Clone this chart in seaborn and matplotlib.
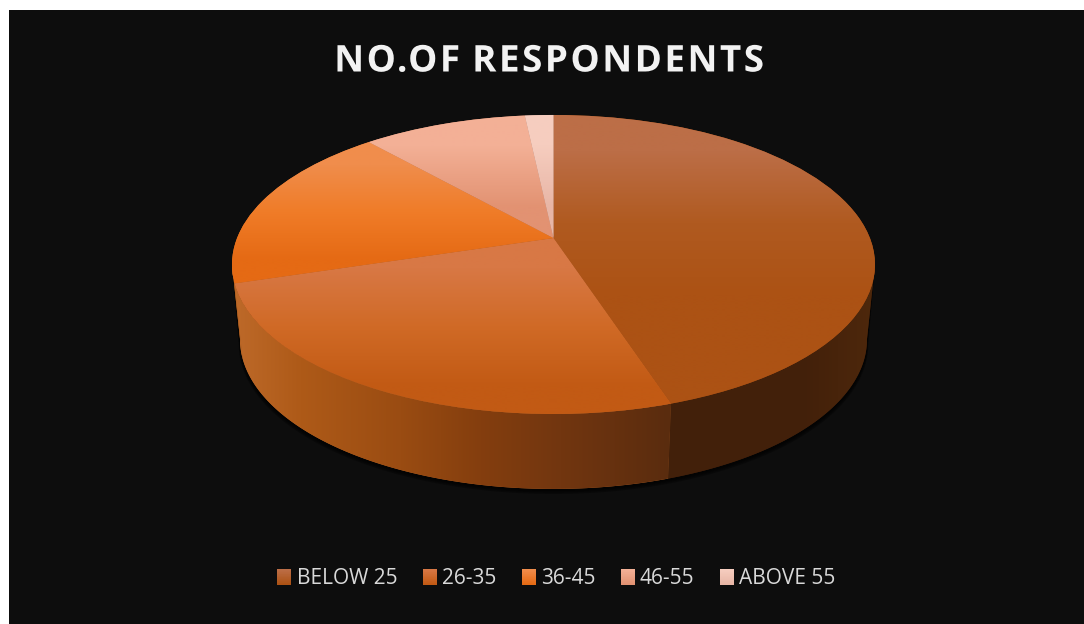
import numpy as np
import matplotlib
matplotlib.use("Agg")
import matplotlib.pyplot as plt
import matplotlib.patheffects as pe
from matplotlib.colors import to_rgb
from matplotlib.legend_handler import HandlerBase
from matplotlib.patches import Patch, Rectangle
from matplotlib.path import Path
from matplotlib.transforms import Transform
import seaborn as sns

# Survey shares by age band
age_groups = ["BELOW 25", "26-35", "36-45", "46-55", "ABOVE 55"]
respondents = [45, 25.2, 18.3, 9.8, 1.7]
chart_title = "NO.OF RESPONDENTS"

BG = "#0D0D0D"
W, H = 1084, 624

# Top-face colours per slice: lit edge, then base tone
top_shades = [
    sns.blend_palette(["#BC6E47", "#B05A20", "#AC5214", "#AC5214"], 4),
    sns.blend_palette(["#D87845", "#D06A26", "#C25A14"], 3),
    sns.blend_palette(["#F08D4C", "#F07C28", "#E56A14"], 3),
    sns.blend_palette(["#F3B096", "#E29272"], 2),
    sns.blend_palette(["#F6CDBF", "#E8B6A6"], 2),
]
# Rim colours per slice, left to right across the pie
rim_shades = [
    [(670, "#42200A"), (800, "#42200A"), (875, "#4E280C")],
    [(232, "#BE6A2A"), (300, "#AE5A18"), (400, "#9A4C12"), (480, "#843E0E"),
     (560, "#723610"), (668, "#5A2C0E")],
    [(232, "#C86C20"), (240, "#C06A28")],
    [(232, "#803C14"), (875, "#803C14")],
    [(232, "#907060"), (875, "#907060")],
]

# Perspective used for the pie's top face (unit circle to canvas pixels)
CX, CY, A, B, K = 553.5, 238.0, 316.4, 144.8, 0.177
DEPTH, BASE_SCALE = 75.0, 0.975
# Only this stretch of the rim faces the viewer (angles in degrees)
FRONT_LO, FRONT_HI = -180 + np.degrees(np.arcsin(K)), -np.degrees(np.arcsin(K))


class TiltTransform(Transform):
    input_dims = output_dims = 2
    is_separable = False
    has_inverse = False

    def transform_non_affine(self, values):
        values = np.asarray(values, float)
        w = 1 + K * values[:, 1]
        return np.column_stack([CX + A * values[:, 0] / w, CY - B * values[:, 1] / w])

    def transform_path_non_affine(self, path):
        return Path(self.transform_non_affine(path.vertices), path.codes)


class LetterSpacing(pe.AbstractPathEffect):
    """Spreads the glyphs of a text path apart by a fixed number of pixels."""

    def __init__(self, spacing_px):
        super().__init__()
        self.spacing_px = spacing_px

    def draw_path(self, renderer, gc, tpath, affine, rgbFace=None):
        verts = np.array(tpath.vertices, float)
        codes = np.array(tpath.codes)
        starts = list(np.flatnonzero(codes == Path.MOVETO)) + [len(codes)]
        spans = []
        for a, b in zip(starts[:-1], starts[1:]):
            real = codes[a:b] != Path.CLOSEPOLY
            spans.append((verts[a:b][real, 0].min(), verts[a:b][real, 0].max(), a, b))
        spans.sort()
        step = self.spacing_px / affine.get_matrix()[0, 0]
        glyph, reach, moved = -1, -np.inf, []
        for x0, x1, a, b in spans:
            if x0 >= reach:
                glyph += 1
            reach = max(reach, x1)
            moved.append((a, b, glyph))
        for a, b, g in moved:
            verts[a:b, 0] += (g - glyph / 2) * step
        renderer.draw_path(gc, Path(verts, codes), affine, rgbFace)


def rim_points(t1, t2, n=120):
    t = np.radians(np.linspace(t1, t2, n))
    return TiltTransform().transform_non_affine(np.column_stack([np.cos(t), np.sin(t)]))


def lowered(pts, dy=DEPTH, scale=BASE_SCALE):
    return np.column_stack([CX + (pts[:, 0] - CX) * scale, pts[:, 1] + dy])


class GradientSwatch(HandlerBase):
    """Legend key shaded from its lit top edge down to the base tone."""

    def create_artists(self, legend, orig, xd, yd, width, height, fontsize, trans):
        top, bottom = np.array(orig.shades[0]), np.array(orig.shades[-1])
        n = 24
        return [
            Rectangle((-xd, -yd + height * (1 - (i + 1) / n)), width, height / n + 0.3,
                      facecolor=top + (bottom - top) * i / (n - 1), edgecolor="none",
                      transform=trans)
            for i in range(n)
        ]


sns.set_theme(style="dark", rc={"axes.facecolor": BG, "figure.facecolor": "white"})
plt.rcParams["font.family"] = ["Open Sans", "DejaVu Sans"]

fig = plt.figure(figsize=(W / 100, H / 100), dpi=100)
ax = fig.add_axes([9 / W, 0, (W - 9) / W, (H - 10) / H])

wedges, _ = ax.pie(respondents, startangle=90, counterclock=False,
                   wedgeprops={"linewidth": 0})
ax.set_aspect("auto")

tilt = TiltTransform() + ax.transData

# Soft contact shadow below the base
front = rim_points(FRONT_LO, FRONT_HI, 200)
for off, grow in [(5, 0.004), (3.5, 0.003), (2, 0.002)]:
    band = lowered(front, DEPTH + off, BASE_SCALE + grow)
    ax.fill(*np.vstack([front, band[::-1]]).T, color="black", alpha=0.35, lw=0, zorder=1)

# Rim of each slice, shaded horizontally
for wedge, stops in zip(wedges, rim_shades):
    lo, hi = max(wedge.theta1, FRONT_LO), min(wedge.theta2, FRONT_HI)
    if lo >= hi:
        continue
    top = rim_points(lo, hi)
    poly = np.vstack([top, lowered(top)[::-1]])
    patch = ax.fill(*poly.T, color=stops[0][1], lw=0, zorder=2)[0]
    xs = np.arange(232, 877)
    rgb = np.array([to_rgb(c) for _, c in stops])
    pos = [p for p, _ in stops]
    strip = np.stack([np.interp(xs, pos, rgb[:, i]) for i in range(3)], axis=-1)[None, :, :]
    img = ax.imshow(strip, extent=(232, 877, 500, 100), aspect="auto", zorder=2.5)
    img.set_clip_path(patch)

# Top faces: pie wedges tilted into perspective, filled by a vertical gradient
for wedge, shades in zip(wedges, top_shades):
    wedge.set_transform(tilt)
    wedge.set_zorder(3)
    wedge.set_facecolor(shades[len(shades) // 2])
    canvas_pts = TiltTransform().transform_non_affine(
        wedge.get_patch_transform().transform(wedge.get_path().vertices))
    y0, y1 = canvas_pts[:, 1].min(), canvas_pts[:, 1].max()
    column = np.array(shades)[:, None, :]
    img = ax.imshow(column, extent=(220, 890, y1, y0), aspect="auto",
                    interpolation="bilinear", zorder=3.5)
    img.set_clip_path(wedge)

ax.set_aspect("auto")
ax.set_xlim(9, W)
ax.set_ylim(H, 10)
ax.set_axis_off()
ax.add_artist(Rectangle((9, 10), W, H, facecolor=BG, edgecolor="none", zorder=0))

title = ax.text(548.5, 61.5, chart_title, color="#F2F2F2", fontsize=26.5, fontweight="bold",
                ha="center", va="center", zorder=6)
title.set_path_effects([LetterSpacing(2.5)])

handles = []
for name, shades in zip(age_groups, top_shades):
    h = Patch(label=name)
    h.shades = [shades[0], shades[-1]]
    handles.append(h)
leg = ax.legend(handles=handles, handler_map={Patch: GradientSwatch()},
                loc="center", bbox_to_anchor=(556.5, 579), bbox_transform=ax.transData,
                ncol=5, frameon=False, fontsize=15, labelcolor="#D9D9D9",
                handlelength=0.67, handleheight=0.77, handletextpad=0.25,
                columnspacing=1.22, borderpad=0, borderaxespad=0)

fig.savefig("out.png", dpi=100, facecolor="white")
